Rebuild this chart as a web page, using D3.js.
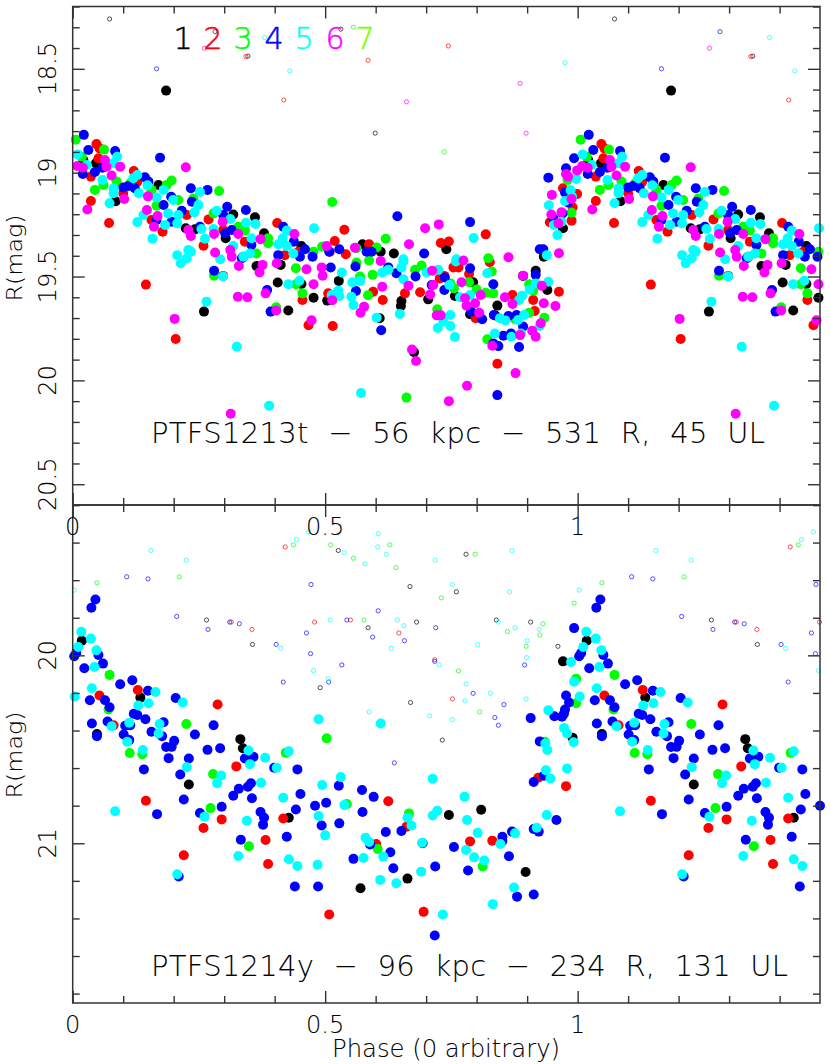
<!DOCTYPE html>
<html><head><meta charset="utf-8">
<script src="https://cdn.jsdelivr.net/npm/d3@7"></script>
<style>html,body{margin:0;padding:0;background:#fff}svg{display:block}
text{font-family:"DejaVu Sans";font-weight:200;fill:#000;stroke:#000;stroke-width:.08}</style></head><body>
<svg id="c" width="830" height="1064"></svg>
<script>
// Each pair is [phase, R magnitude]
const top1=[[.185,18.605],[.021,18.939],[.046,18.955],[.170,19.059],[.085,19.138],[.224,19.268],[.242,19.273],[.318,19.201],[.361,19.215],[.303,19.316],[.379,19.292],[.453,19.353],[.260,19.669],[.427,19.664],[.477,19.602],[.406,19.529],[.453,19.536],[.364,19.449],[.412,19.444],[.676,19.865],[.608,19.701],[.651,19.618],[.650,19.642],[.527,19.521],[.504,19.616],[.704,19.610],[.757,19.594],[.787,19.682],[.793,19.528],[.841,19.640],[.837,19.688],[.917,19.472],[.940,19.565],[.892,19.497],[.574,19.345],[.636,19.389],[.610,19.381],[.740,19.369],[.971,19.268],[.933,19.405]];
const top2=[[.047,18.862],[.053,18.883],[.051,18.931],[.036,19.019],[.036,19.136],[.072,19.242],[.121,18.992],[.128,19.043],[.100,19.099],[.156,19.228],[.178,19.284],[.269,19.225],[.259,19.352],[.226,19.204],[.405,19.242],[.420,19.397],[.341,19.332],[.447,19.381],[.298,19.276],[.145,19.539],[.204,19.801],[.467,19.735],[.455,19.613],[.506,19.581],[.298,19.497],[.515,19.738],[.841,19.920],[.614,19.613],[.595,19.573],[.658,19.581],[.688,19.576],[.754,19.456],[.764,19.456],[.785,19.488],[.826,19.431],[.727,19.509],[.736,19.497],[.798,19.701],[.871,19.589],[.912,19.613],[.915,19.666],[.963,19.573],[.538,19.275],[.519,19.329],[.541,19.393],[.587,19.345],[.729,19.339],[.745,19.331],[.818,19.297],[.988,19.231],[.971,19.075],[.999,19.103],[.990,19.167],[.945,19.239],[.509,19.381]];
const top3=[[.006,18.841],[.062,18.889],[.018,18.923],[.044,19.083],[.061,19.059],[.087,19.043],[.196,19.038],[.290,19.088],[.239,19.124],[.209,19.132],[.166,19.159],[.186,19.059],[.156,19.083],[.279,19.196],[.341,19.279],[.328,19.260],[.387,19.340],[.387,19.316],[.364,19.389],[.477,19.381],[.114,19.051],[.280,19.496],[.403,19.648],[.455,19.581],[.442,19.460],[.442,19.537],[.661,20.083],[.821,19.802],[.722,19.658],[.585,19.590],[.594,19.492],[.569,19.500],[.562,19.433],[.587,19.423],[.678,19.468],[.691,19.447],[.823,19.412],[.830,19.476],[.800,19.562],[.818,19.578],[.833,19.581],[.755,19.557],[.785,19.528],[.904,19.537],[.912,19.568],[.904,19.674],[.934,19.698],[.876,19.706],[.748,19.533],[.514,19.141],[.620,19.318],[.562,19.364],[.602,19.360],[.988,19.193],[.980,19.035],[.494,19.356]];
const top4=[[.022,18.818],[.031,18.891],[.084,18.896],[.173,18.928],[.020,19.006],[.044,18.997],[.059,18.976],[.143,19.022],[.150,19.043],[.100,19.071],[.110,19.064],[.123,19.075],[.234,19.075],[.267,19.083],[.195,19.116],[.180,19.156],[.236,19.140],[.216,19.183],[.343,19.180],[.306,19.164],[.298,19.204],[.166,19.228],[.196,19.236],[.252,19.260],[.315,19.276],[.302,19.292],[.417,19.260],[.438,19.332],[.460,19.369],[.407,19.397],[.354,19.348],[.450,19.405],[.475,19.405],[.338,19.405],[.280,19.472],[.392,19.669],[.385,19.565],[.335,19.412],[.611,19.759],[.841,20.071],[.884,19.839],[.843,19.835],[.833,19.822],[.853,19.785],[.868,19.774],[.892,19.741],[.811,19.706],[.789,19.669],[.863,19.690],[.879,19.685],[.834,19.685],[.561,19.570],[.560,19.452],[.511,19.457],[.641,19.484],[.625,19.456],[.679,19.500],[.737,19.505],[.736,19.565],[.787,19.460],[.833,19.537],[.917,19.492],[.711,19.541],[.993,18.931],[.977,18.979],[.942,19.024],[.975,19.095],[.981,19.143],[.970,19.196],[.952,19.220],[.925,19.369],[.932,19.369],[.508,19.381],[.528,19.369],[.582,19.381],[.592,19.381],[.696,19.389],[.643,19.210],[.787,19.238]];
const top5=[[.010,18.912],[.028,18.963],[.088,18.923],[.081,18.955],[.059,19.035],[.081,19.075],[.081,19.099],[.073,19.147],[.128,19.011],[.120,19.027],[.148,19.061],[.131,19.099],[.180,19.083],[.166,19.119],[.199,19.132],[.252,19.093],[.249,19.156],[.241,19.191],[.189,19.196],[.209,19.204],[.140,19.204],[.128,19.238],[.183,19.252],[.207,19.244],[.158,19.318],[.255,19.271],[.262,19.318],[.285,19.183],[.279,19.271],[.312,19.223],[.343,19.241],[.362,19.247],[.354,19.316],[.407,19.345],[.416,19.316],[.424,19.279],[.424,19.353],[.437,19.389],[.478,19.268],[.318,19.353],[.229,19.372],[.207,19.397],[.351,19.389],[.338,19.405],[.292,19.417],[.265,19.621],[.325,19.838],[.389,20.122],[.298,19.500],[.214,19.436],[.226,19.412],[.234,19.380],[.427,19.537],[.449,19.520],[.571,20.061],[.757,19.791],[.723,19.748],[.748,19.738],[.734,19.717],[.748,19.685],[.602,19.698],[.648,19.680],[.556,19.637],[.552,19.597],[.526,19.568],[.528,19.594],[.513,19.589],[.533,19.481],[.554,19.528],[.569,19.521],[.613,19.481],[.625,19.468],[.655,19.513],[.655,19.428],[.651,19.456],[.701,19.481],[.724,19.468],[.746,19.541],[.759,19.428],[.821,19.484],[.767,19.600],[.787,19.589],[.846,19.701],[.857,19.712],[.882,19.709],[.894,19.685],[.836,19.774],[.869,19.790],[.888,19.774],[.925,19.738],[.884,19.613],[.890,19.592],[.905,19.562],[.917,19.533],[.942,19.525],[.794,19.315],[.986,19.085],[.989,19.116],[.975,19.136],[.943,19.157],[.997,19.030],[.968,19.236],[.953,19.252],[.960,19.300],[.939,19.397],[.655,19.417],[.760,19.417]];
const top6=[[.009,18.968],[.020,18.976],[.064,18.939],[.067,18.971],[.077,19.014],[.094,18.971],[.224,18.974],[.029,19.177],[.102,19.127],[.149,19.114],[.147,19.180],[.168,19.209],[.161,19.260],[.229,19.276],[.234,19.305],[.297,19.236],[.280,19.295],[.328,19.295],[.372,19.320],[.439,19.295],[.503,19.353],[.282,19.384],[.312,19.372],[.315,19.405],[.202,19.704],[.313,20.161],[.327,19.597],[.346,19.600],[.382,19.581],[.403,19.664],[.473,19.711],[.329,19.449],[.370,19.480],[.376,19.444],[.404,19.436],[.463,19.465],[.477,19.537],[.493,19.456],[.495,19.496],[.672,19.851],[.680,19.907],[.745,20.100],[.781,20.026],[.877,19.965],[.831,19.833],[.886,19.782],[.910,19.761],[.917,19.790],[.927,19.725],[.570,19.674],[.577,19.645],[.514,19.614],[.613,19.549],[.610,19.425],[.665,19.544],[.712,19.472],[.714,19.541],[.708,19.586],[.770,19.528],[.774,19.423],[.777,19.605],[.780,19.640],[.797,19.629],[.808,19.589],[.805,19.674],[.721,19.687],[.729,19.687],[.856,19.600],[.871,19.632],[.892,19.496],[.929,19.545],[.933,19.629],[.956,19.642],[.863,19.407],[.963,19.388],[.698,19.268],[.725,19.249],[.666,19.345],[.559,19.361],[.949,19.107],[.988,19.127],[.968,19.191],[.948,19.201],[.962,19.244],[.977,19.006],[.981,19.019],[.999,18.989]];
const topUL1=[[.073,18.260],[.347,18.439],[.531,18.309],[.599,18.810]];
const topUL2=[[.343,18.441],[.418,18.650],[.585,18.459],[.744,18.390]];
const topUL3=[[.556,18.300],[.736,18.900]];
const topUL4=[[.166,18.500],[.282,18.321]];
const topUL5=[[.380,18.349],[.430,18.510],[.975,18.470]];
const topUL6=[[.261,18.401],[.661,18.659],[.886,18.570],[.898,18.810]];

const bot1=[[.018,19.922],[.134,20.225],[.048,20.419],[.332,20.446],[.337,20.494],[.230,20.687],[.971,20.032],[.990,20.439],[.428,20.864],[.745,20.850],[.809,20.822],[.897,21.153],[.663,21.188],[.570,21.239]];
const bot2=[[.053,20.214],[.129,20.184],[.287,20.262],[.081,20.372],[.324,20.591],[.922,20.651],[.977,20.696],[.145,20.774],[.220,21.064],[.259,20.919],[.295,20.873],[.382,20.983],[.387,21.110],[.417,20.868],[.508,21.379],[.625,20.776],[.661,20.912],[.601,21.004],[.787,20.990],[.831,20.986],[.695,21.365]];
const bot3=[[.073,20.104],[.071,20.288],[.225,20.365],[.113,20.520],[.138,20.526],[.503,20.441],[.422,20.519],[.278,20.632],[.997,20.124],[.997,20.255],[.935,20.460],[.273,20.813],[.349,21.016],[.543,20.791],[.666,20.841],[.604,21.030],[.812,21.124]];
const bot4=[[.045,19.703],[.037,19.747],[.007,19.988],[.003,20.005],[.051,19.998],[.060,20.044],[.023,20.069],[.094,20.154],[.118,20.133],[.149,20.188],[.034,20.239],[.064,20.239],[.073,20.276],[.204,20.227],[.038,20.363],[.069,20.352],[.104,20.375],[.114,20.372],[.121,20.311],[.128,20.317],[.144,20.340],[.180,20.356],[.156,20.407],[.279,20.372],[.242,20.421],[.048,20.430],[.101,20.421],[.112,20.451],[.177,20.430],[.201,20.455],[.185,20.488],[.196,20.487],[.267,20.503],[.292,20.494],[.190,20.547],[.230,20.549],[.141,20.607],[.213,20.634],[.341,20.549],[.358,20.540],[.399,20.598],[.445,20.607],[.329,20.710],[.347,20.699],[.353,20.681],[.993,19.855],[.977,20.214],[.983,20.251],[.975,20.288],[.973,20.310],[.969,20.327],[.954,20.324],[.907,20.334],[.925,20.458],[.933,20.641],[.913,20.674],[.527,20.694],[.573,20.717],[.167,20.845],[.220,20.767],[.252,20.839],[.295,20.806],[.318,20.747],[.355,20.760],[.372,20.834],[.379,20.864],[.377,20.901],[.333,20.981],[.424,20.965],[.442,20.820],[.451,20.738],[.480,20.800],[.502,20.784],[.493,20.905],[.210,21.177],[.440,21.230],[.486,21.230],[.596,20.753],[.574,20.834],[.528,20.894],[.620,20.940],[.651,20.935],[.589,21.006],[.629,21.048],[.556,21.083],[.635,21.133],[.718,21.124],[.693,21.000],[.755,21.020],[.783,21.145],[.851,20.965],[.851,20.988],[.870,20.938],[.864,21.069],[.880,21.284],[.913,21.273],[.913,20.924],[.923,20.938],[.958,20.876],[.717,21.491]];
const bot5=[[.017,19.874],[.036,19.911],[.011,19.956],[.047,19.973],[.043,20.062],[.038,20.175],[.004,20.219],[.164,20.195],[.218,20.251],[.150,20.255],[.130,20.267],[.172,20.365],[.112,20.359],[.077,20.377],[.170,20.416],[.108,20.460],[.139,20.504],[.226,20.595],[.348,20.506],[.351,20.579],[.381,20.545],[.428,20.511],[.404,20.598],[.294,20.639],[.286,20.680],[.373,20.678],[.487,20.340],[.494,20.690],[.987,20.035],[.993,20.140],[.942,20.292],[.973,20.386],[.979,20.416],[.992,20.462],[.936,20.469],[.940,20.504],[.937,20.612],[.946,20.655],[.979,20.602],[.610,20.363],[.713,20.657],[.531,20.648],[.084,20.830],[.261,20.859],[.345,20.880],[.417,20.758],[.487,20.855],[.500,20.958],[.207,21.165],[.328,21.068],[.428,21.085],[.445,21.121],[.485,21.114],[.776,20.753],[.781,20.876],[.722,20.827],[.713,20.852],[.538,20.797],[.663,20.864],[.671,20.905],[.580,20.970],[.587,20.993],[.576,21.078],[.615,21.071],[.692,20.997],[.690,21.151],[.609,21.195],[.641,21.213],[.802,20.944],[.779,21.036],[.795,21.075],[.815,21.092],[.847,21.004],[.876,20.947],[.919,20.917],[.939,20.850],[.874,21.236],[.832,21.324],[.733,21.379]];
const botUL1=[[.265,19.812],[.356,19.942],[.490,20.172],[.526,19.442],[.779,19.462],[.668,19.634],[.760,19.662],[.681,19.823],[.839,19.812],[.907,19.823],[.585,19.853],[.961,19.952],[.669,20.251],[.732,20.451]];
const botUL2=[[.314,19.823],[.355,19.862],[.421,19.423],[.479,19.823],[.550,19.812],[.646,19.881],[.717,20.023],[.752,20.232]];
const botUL3=[[.048,19.614],[.211,19.582],[.437,19.412],[.511,19.412],[.556,19.483],[.628,19.412],[.640,19.533],[.797,19.462],[.730,19.694],[.993,19.722],[.577,19.812],[.931,19.832],[.925,19.892],[.861,19.873],[.898,19.952],[.764,20.083],[.806,20.301]];
const botUL4=[[.107,19.582],[.149,19.593],[.206,19.793],[.268,19.862],[.311,19.823],[.330,19.832],[.403,19.942],[.472,19.623],[.463,19.881],[.471,19.991],[.417,20.142],[.507,20.142],[.605,19.763],[.543,19.812],[.719,19.853],[.594,19.903],[.657,19.922],[.533,20.051],[.717,20.032],[.895,20.051],[.793,20.202],[.854,20.262],[.836,20.331],[.843,20.372],[.637,20.572]];
const botUL5=[[.003,19.653],[.155,19.442],[.225,19.494],[.443,19.384],[.467,19.343],[.412,19.963],[.477,20.081],[.506,20.124],[.605,19.352],[.604,19.423],[.538,19.453],[.621,19.462],[.579,19.513],[.718,19.494],[.870,19.442],[.752,19.623],[.865,19.662],[.510,19.812],[.643,19.812],[.656,19.842],[.843,19.823],[.876,19.853],[.924,19.862],[.900,19.922],[.802,19.943],[.631,19.963],[.899,20.012],[.726,20.051],[.779,20.152],[.827,20.202],[.777,20.242],[.898,20.232],[.587,20.301],[.707,20.322],[.752,20.342]];

const filterNames=["1","2","3","4","5","6","7"];
const filterColors=["#000000","#ff0000","#00ff00","#0000ff","#00ffff","#ff00ff","#80ff00"];
const phaseMajor=[0,0.5,1];
const topMajor=[18.5,19,19.5,20,20.5];
const botMajor=[20,21];
const title1="PTFS1213t \u2212 56 kpc \u2212 531 R, 45 UL";
const title2="PTFS1214y \u2212 96 kpc \u2212 234 R, 131 UL";

const svg=d3.select("#c");
const L=72.7,R=820,T=6.5,M=505,B=1003,maxPhase=1.48;
const x=d3.scaleLinear().domain([0,maxPhase]).range([L,R]);
const yT=d3.scaleLinear().domain([18.2,20.6]).range([T,M]);
const yB=d3.scaleLinear().domain([19.2,21.85]).range([M,B]);
const minorX=d3.range(0,1.48,0.1).filter(v=>Math.abs(v*2-Math.round(v*2))>1e-6);
const inRange=(a,s)=>a.filter(v=>v>=s.domain()[0]&&v<=s.domain()[1]);
const wrap=d=>d.flatMap(p=>p[0]+1<=1.482?[p,[p[0]+1,p[1]]]:[p]);

function axes(y,yMajor,yMinor){
  const style=g=>{g.select(".domain").remove();g.selectAll("line").attr("stroke","#333").attr("stroke-width",1.4);};
  const add=(gen,tx,ty)=>svg.append("g").attr("transform",`translate(${tx},${ty})`).call(gen).call(style);
  const none=()=>"";
  add(d3.axisLeft(y).tickValues(yMinor).tickSizeInner(-7).tickSizeOuter(0).tickFormat(none),L,0);
  add(d3.axisLeft(y).tickValues(yMajor).tickSizeInner(-12).tickSizeOuter(0).tickFormat(none),L,0);
  add(d3.axisRight(y).tickValues(yMinor).tickSizeInner(-7).tickSizeOuter(0).tickFormat(none),R,0);
  add(d3.axisRight(y).tickValues(yMajor).tickSizeInner(-12).tickSizeOuter(0).tickFormat(none),R,0);
  const [y0,y1]=y.range();
  add(d3.axisTop(x).tickValues(minorX).tickSizeInner(-7).tickSizeOuter(0).tickFormat(none),0,y0);
  add(d3.axisTop(x).tickValues(phaseMajor).tickSizeInner(-12).tickSizeOuter(0).tickFormat(none),0,y0);
  add(d3.axisBottom(x).tickValues(minorX).tickSizeInner(-7).tickSizeOuter(0).tickFormat(none),0,y1);
  add(d3.axisBottom(x).tickValues(phaseMajor).tickSizeInner(-12).tickSizeOuter(0).tickFormat(none),0,y1);
  svg.append("rect").attr("x",L).attr("y",y0).attr("width",R-L).attr("height",y1-y0)
    .attr("fill","none").attr("stroke","#333").attr("stroke-width",1.5);
  yMajor.forEach(v=>svg.append("text").text(v).attr("font-size",24)
    .attr("text-anchor","middle").attr("transform",`translate(56,${y(v)}) rotate(-90)`));
}
function layer(y,data,color,r,open){
  svg.append("g").selectAll("circle").data(wrap(data)).join("circle")
    .attr("cx",d=>x(d[0])).attr("cy",d=>y(d[1])).attr("r",r)
    .attr("fill",open?"none":color).attr("stroke",open?color:"none")
    .attr("stroke-width",open?0.9:0).attr("opacity",open?0.75:1);
}
const minorTop=inRange(d3.range(182,207).map(v=>v/10),yT).filter(v=>!topMajor.includes(v));
const minorBot=inRange(d3.range(96,110,1).map(v=>v/5),yB).filter(v=>!botMajor.includes(v));

[topUL1,topUL2,topUL3,topUL4,topUL5,topUL6].forEach((d,i)=>layer(yT,d,filterColors[i],2.1,true));
[top1,top2,top3,top4,top5,top6].forEach((d,i)=>layer(yT,d,filterColors[i],5,false));
[botUL1,botUL2,botUL3,botUL4,botUL5].forEach((d,i)=>layer(yB,d,filterColors[i],2.1,true));
[bot1,bot2,bot3,bot4,bot5].forEach((d,i)=>layer(yB,d,filterColors[i],5,false));
axes(yT,topMajor,minorTop);
axes(yB,botMajor,minorBot);

const lab=(v,yy)=>svg.append("text").text(v).attr("x",x(v)).attr("y",yy).attr("font-size",24).attr("text-anchor","middle");
phaseMajor.forEach(v=>{lab(v,535);lab(v,1033);});
svg.append("text").text("Phase (0 arbitrary)").attr("x",332).attr("y",1057).attr("font-size",24)
  .attr("textLength",228).attr("lengthAdjust","spacingAndGlyphs");
[258,755].forEach(c=>svg.append("text").text("R(mag)").attr("font-size",22)
  .attr("text-anchor","middle").attr("textLength",87).attr("lengthAdjust","spacingAndGlyphs")
  .attr("transform",`translate(22,${c}) rotate(-90)`));
const legendX=[183,213,243,274,304,335,365];
filterNames.forEach((n,i)=>svg.append("text").text(n).attr("x",legendX[i]).attr("y",49)
  .attr("font-size",30).attr("text-anchor","middle")
  .style("fill",filterColors[i]).style("stroke",filterColors[i]).style("stroke-width",.5));
svg.append("text").text(title1).attr("x",151).attr("y",443).attr("font-size",29)
  .style("word-spacing","10px").attr("textLength",614).attr("lengthAdjust","spacing");
svg.append("text").text(title2).attr("x",151).attr("y",976).attr("font-size",29)
  .style("word-spacing","10px").attr("textLength",637).attr("lengthAdjust","spacing");
</script></body></html>
